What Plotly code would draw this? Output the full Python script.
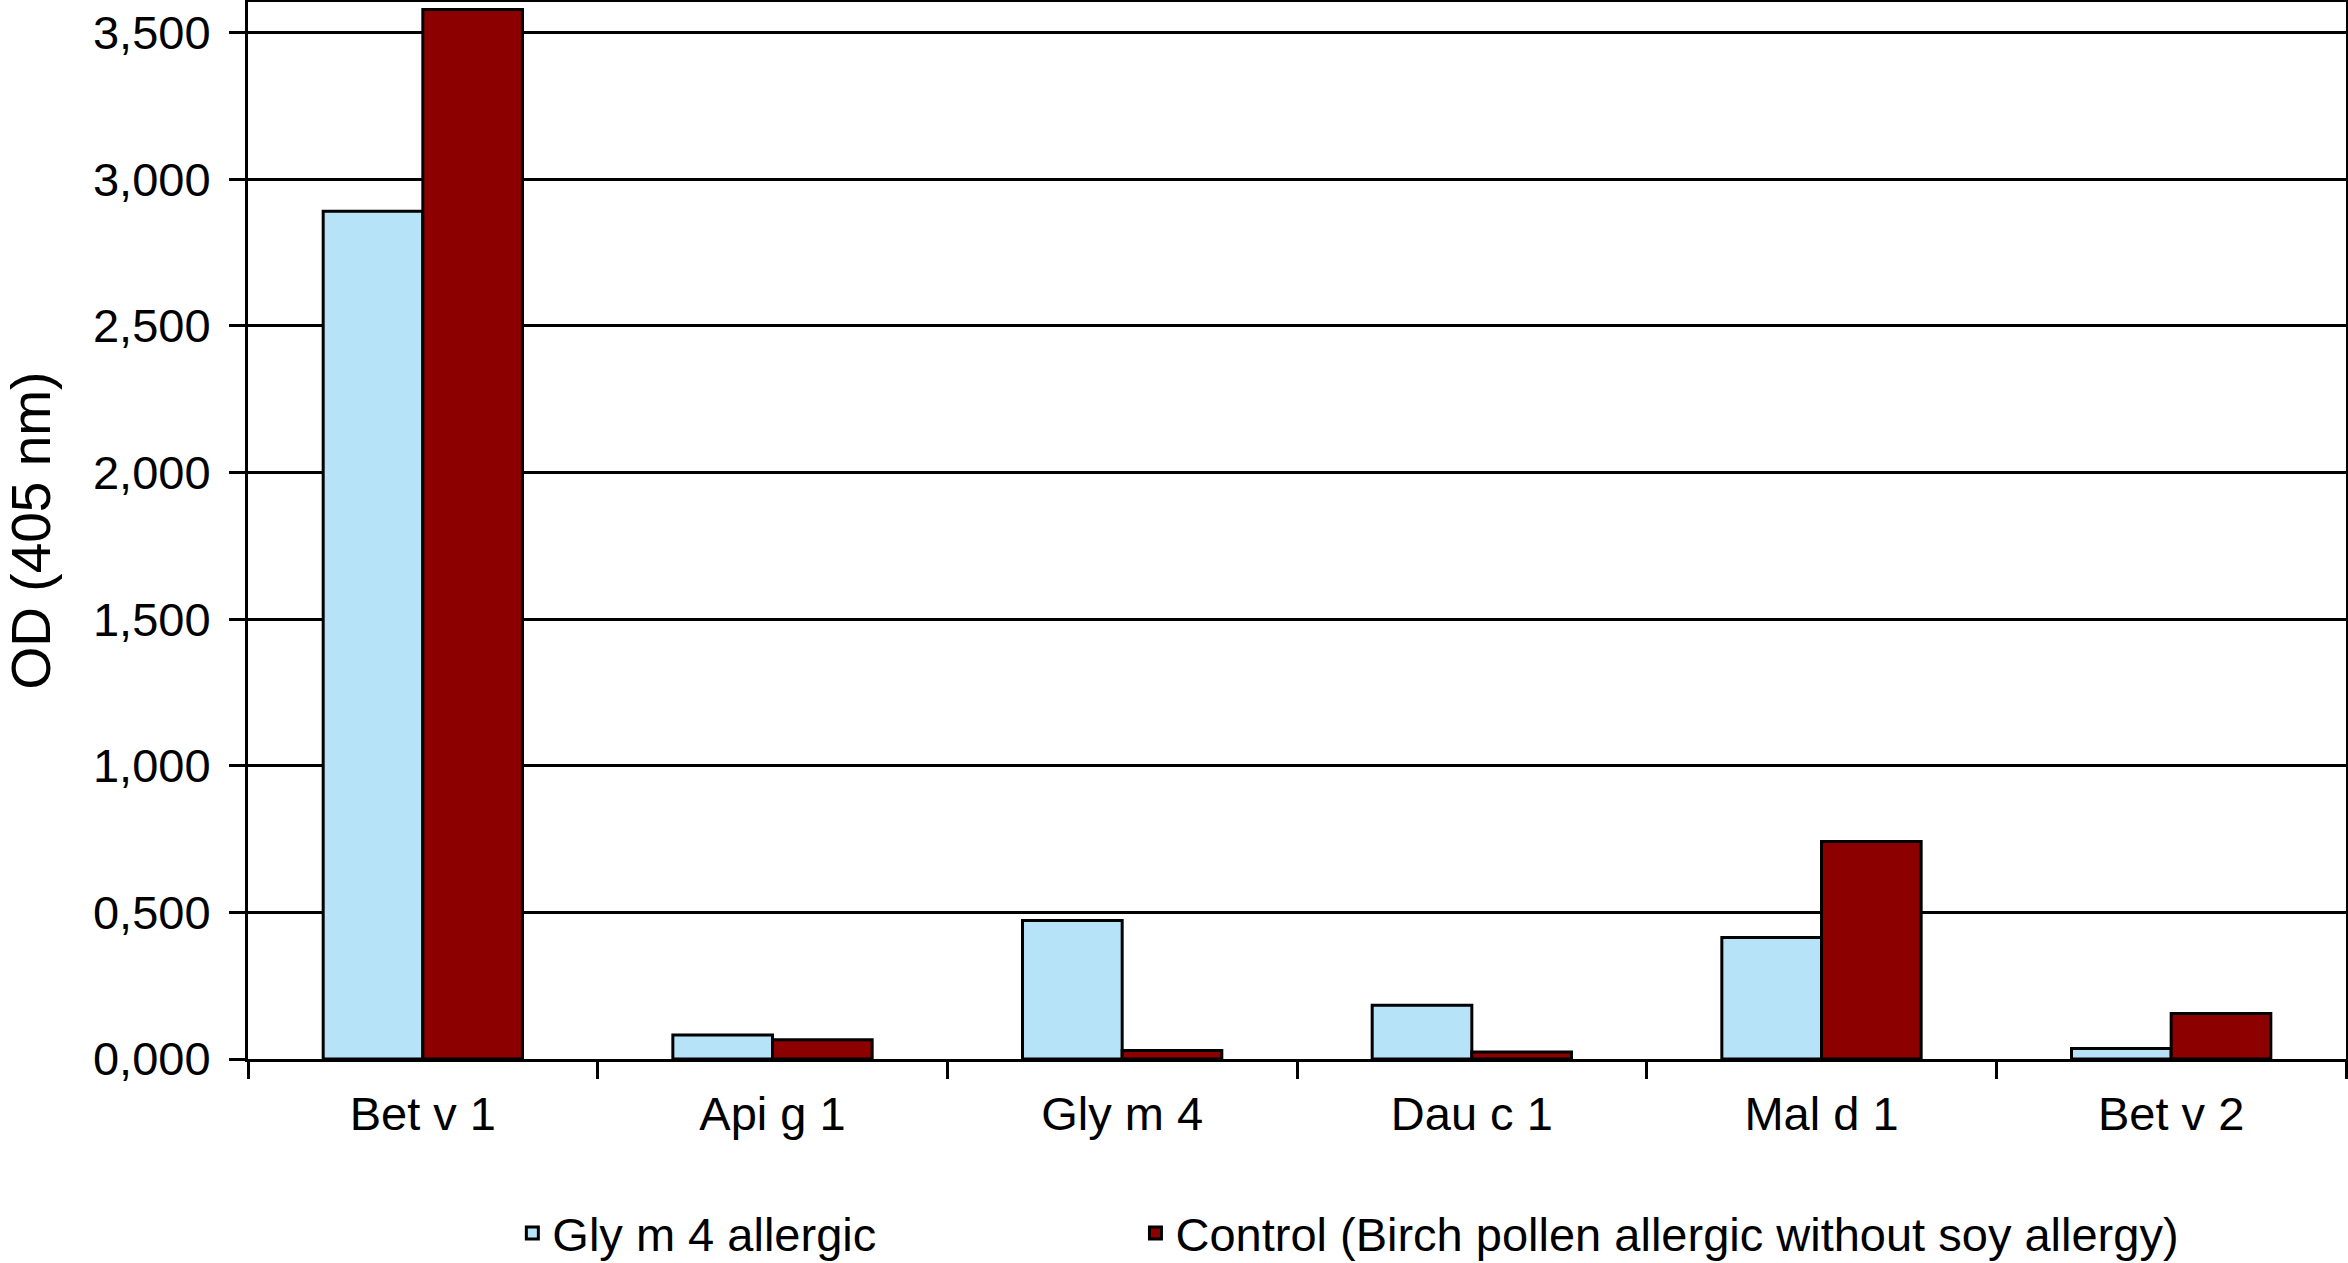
import plotly.graph_objects as go

categories = ["Bet v 1", "Api g 1", "Gly m 4", "Dau c 1", "Mal d 1", "Bet v 2"]
allergic_vals = [2.891, 0.082, 0.472, 0.183, 0.414, 0.036]
control_vals = [3.579, 0.066, 0.029, 0.024, 0.742, 0.155]
series_names = ["Gly m 4 allergic", "Control (Birch pollen allergic without soy allergy)"]
ytick_vals = [0, 0.5, 1.0, 1.5, 2.0, 2.5, 3.0, 3.5]

FONT = "Liberation Sans, Arial, sans-serif"

fig = go.Figure()
fig.add_trace(go.Bar(
    x=categories, y=allergic_vals, name=series_names[0], legend="legend",
    marker=dict(color="#B7E3F9", line=dict(color="black", width=3)),
))
fig.add_trace(go.Bar(
    x=categories, y=control_vals, name=series_names[1], legend="legend2",
    marker=dict(color="#8C0000", line=dict(color="black", width=3)),
))

legend_common = dict(
    orientation="h", xanchor="left", yanchor="middle",
    font=dict(family=FONT, size=47, color="black"),
    bgcolor="rgba(0,0,0,0)",
)

fig.update_layout(
    width=2348, height=1263,
    margin=dict(l=248, r=2, t=2, b=204, autoexpand=False),
    paper_bgcolor="white", plot_bgcolor="white",
    barmode="group", bargap=0.43, bargroupgap=0,
    separators=",.",
    font=dict(family=FONT, size=47, color="black"),
    showlegend=True,
    legend=dict(x=0.126, y=-0.165, **legend_common),
    legend2=dict(x=0.423, y=-0.165, **legend_common),
)

fig.update_xaxes(
    type="category", tickson="boundaries", automargin=False,
    showline=True, linecolor="black", linewidth=3, mirror=True,
    ticks="outside", ticklen=17, tickwidth=3, tickcolor="black",
    showgrid=False, tickfont=dict(family=FONT, size=47, color="black"),
    ticklabelstandoff=12,
)
fig.update_yaxes(
    range=[0, 3.605], tickvals=ytick_vals, tickformat=".3f", automargin=False,
    showline=True, linecolor="black", linewidth=3, mirror=True,
    ticks="outside", ticklen=16, tickwidth=3, tickcolor="black",
    showgrid=True, gridcolor="black", gridwidth=3,
    zeroline=False,
    tickfont=dict(family=FONT, size=47, color="black"),
    ticklabelstandoff=9,
    title=dict(text="OD (405 nm)", font=dict(family=FONT, size=55, color="black"), standoff=37),
)

fig.write_html(
    "out.html",
    config={"displayModeBar": False},
    post_script="document.body.style.margin='0';document.body.style.overflow='hidden';",
)
